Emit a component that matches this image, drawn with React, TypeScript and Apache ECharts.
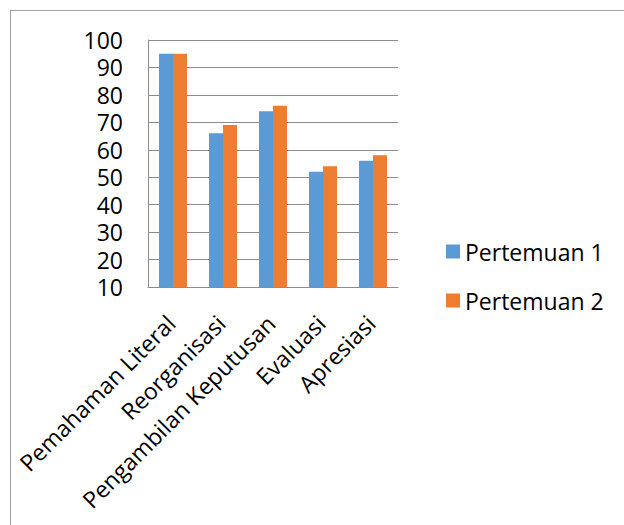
import React, { useEffect, useRef } from "react";
import * as echarts from "echarts";

const categories = ["Pemahaman Literal", "Reorganisasi", "Pengambilan Keputusan", "Evaluasi", "Apresiasi"];
const seriesNames = ["Pertemuan 1", "Pertemuan 2"];
const pertemuan1 = [95, 66, 74, 52, 56];
const pertemuan2 = [95, 69, 76, 54, 58];
const yMin = 10;
const yMax = 100;
const yInterval = 10;

const FONT = "'Open Sans', 'Noto Sans', sans-serif";

export default function App() {
  const ref = useRef<HTMLDivElement>(null);
  useEffect(() => {
    document.body.style.margin = "0";
    const chart = echarts.init(ref.current!, undefined, { renderer: "svg" });
    chart.setOption({
      animation: false,
      backgroundColor: "#ffffff",
      textStyle: { fontFamily: FONT },
      grid: { left: 148, top: 40, right: 226, bottom: 238, containLabel: false },
      legend: {
        orient: "vertical",
        left: 441,
        top: 235,
        itemWidth: 14,
        itemHeight: 14,
        itemGap: 26,
        icon: "rect",
        data: seriesNames,
        textStyle: { fontSize: 23, color: "#000", fontFamily: FONT, lineHeight: 22, padding: [0, 0, 0, 0] },
      },
      xAxis: {
        type: "category",
        data: categories,
        axisLine: { show: true, lineStyle: { color: "#8c8c8c", width: 1 } },
        axisTick: { show: false },
        axisLabel: { rotate: 45, fontSize: 23, color: "#000", fontFamily: FONT, margin: 30, padding: [0, 3, 0, 0], interval: 0 },
      },
      yAxis: {
        type: "value",
        min: yMin,
        max: yMax,
        interval: yInterval,
        axisLine: { show: true, lineStyle: { color: "#8c8c8c", width: 1 } },
        axisTick: { show: false },
        splitLine: { show: true, lineStyle: { color: "#8c8c8c", width: 1 } },
        axisLabel: { fontSize: 23, lineHeight: 24, color: "#000", fontFamily: FONT, margin: 25 },
      },
      series: [
        {
          name: seriesNames[0],
          type: "bar",
          data: pertemuan1,
          barWidth: 14,
          barGap: "0%",
          itemStyle: { color: "#5B9BD5" },
        },
        {
          name: seriesNames[1],
          type: "bar",
          data: pertemuan2,
          barWidth: 14,
          barGap: "0%",
          itemStyle: { color: "#ED7D31" },
        },
      ],
      graphic: [
        { type: "line", shape: { x1: 10, y1: 10.5, x2: 624, y2: 10.5 }, style: { stroke: "#a0a0a0", lineWidth: 1 } },
        { type: "line", shape: { x1: 10.5, y1: 10, x2: 10.5, y2: 525 }, style: { stroke: "#a0a0a0", lineWidth: 1 } },
      ],
    });
    return () => chart.dispose();
  }, []);
  return <div ref={ref} style={{ width: 624, height: 525 }} />;
}
